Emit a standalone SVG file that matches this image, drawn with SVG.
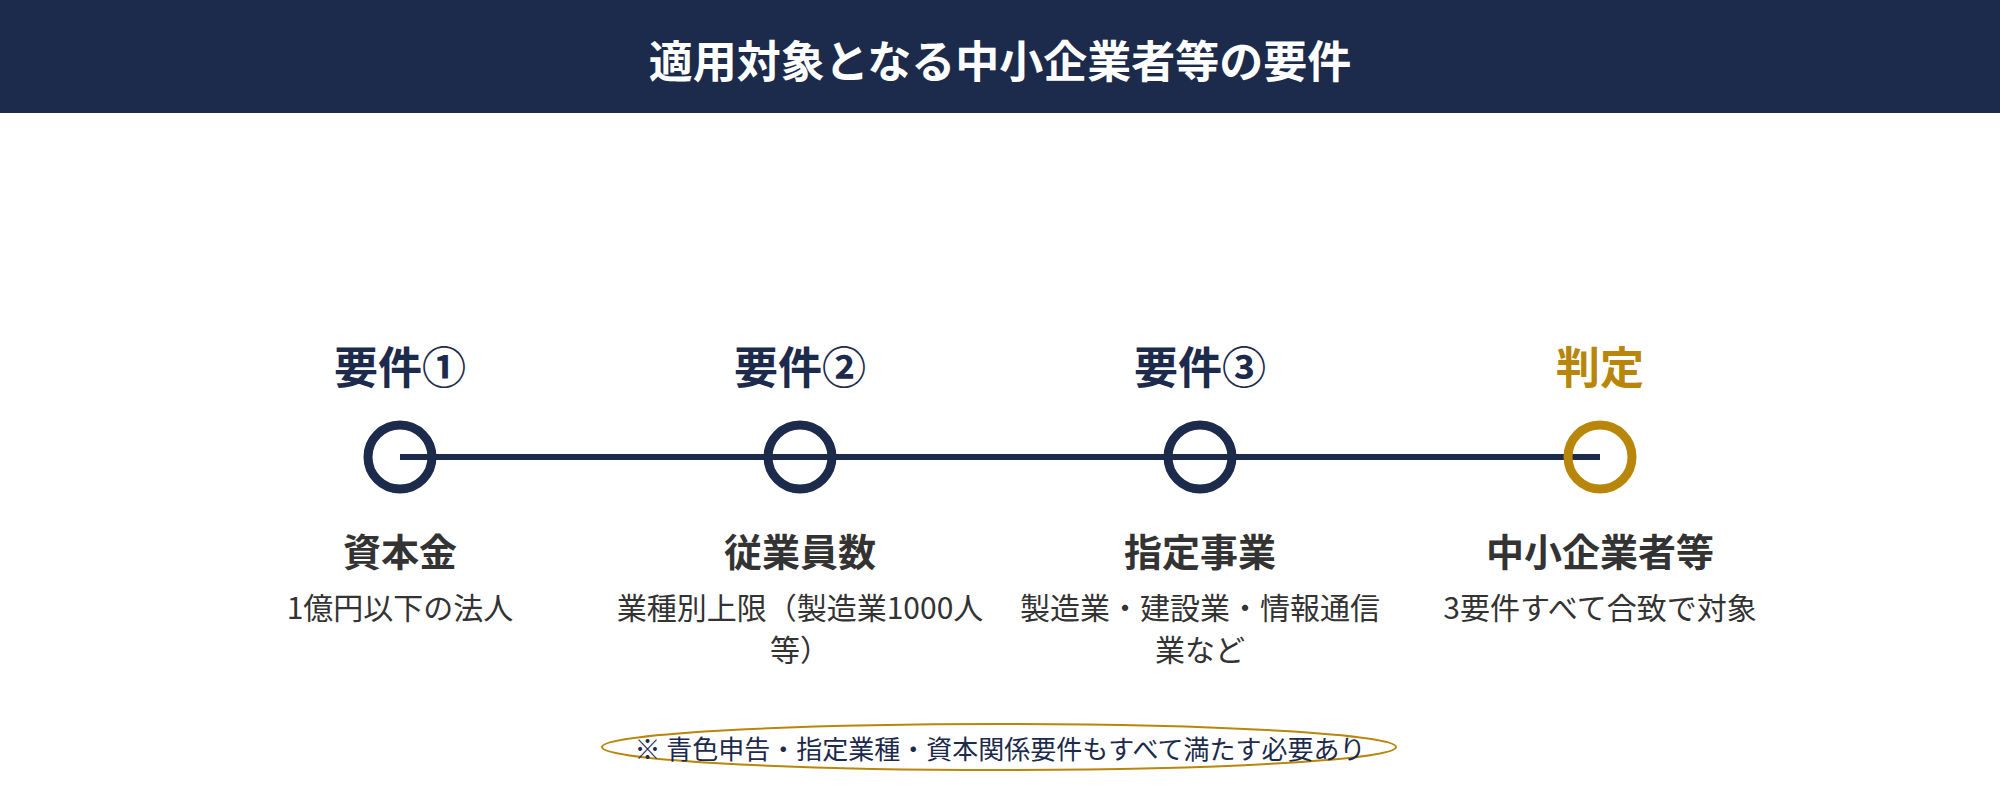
<svg xmlns="http://www.w3.org/2000/svg" width="2000" height="800" viewBox="0 0 2000 800">
  <style>
    text { font-family: "Noto Sans CJK JP", "Noto Sans", sans-serif; text-anchor: middle; }
    .title { font-size: 44px; font-weight: 700; fill: #ffffff; }
    .step { font-size: 44px; font-weight: 700; fill: #1c2a4b; }
    .step.gold { fill: #b8860b; }
    .head { font-size: 38px; font-weight: 700; fill: #333333; }
    .desc { font-size: 30px; font-weight: 400; fill: #333333; }
    .note { font-size: 26px; font-weight: 400; fill: #1c2a4b; }
    .dot { fill: none; stroke: #1c2a4b; stroke-width: 9; }
    .dot.gold { stroke: #b8860b; }
  </style>
  <rect x="0" y="0" width="2000" height="800" fill="#ffffff"/>
  <g id="header">
    <rect x="0" y="0" width="2000" height="113" fill="#1c2a4b"/>
    <text class="title" x="1000" y="78">適用対象となる中小企業者等の要件</text>
  </g>
  <g id="connectors">
    <line x1="400" y1="457" x2="1600" y2="457" stroke="#1c2a4b" stroke-width="6"/>
  </g>
  <g id="node-req1">
    <text class="step" x="400" y="384">要件①</text>
    <circle class="dot" cx="400" cy="457" r="32"/>
    <text class="head" x="400" y="566">資本金</text>
    <text class="desc" x="400" y="619">1億円以下の法人</text>
  </g>
  <g id="node-req2">
    <text class="step" x="800" y="384">要件②</text>
    <circle class="dot" cx="800" cy="457" r="32"/>
    <text class="head" x="800" y="566">従業員数</text>
    <text class="desc" x="800" y="619">業種別上限（製造業1000人</text>
    <text class="desc" x="800" y="661">等）</text>
  </g>
  <g id="node-req3">
    <text class="step" x="1200" y="384">要件③</text>
    <circle class="dot" cx="1200" cy="457" r="32"/>
    <text class="head" x="1200" y="566">指定事業</text>
    <text class="desc" x="1200" y="619">製造業・建設業・情報通信</text>
    <text class="desc" x="1200" y="661">業など</text>
  </g>
  <g id="node-judge">
    <text class="step gold" x="1600" y="384">判定</text>
    <circle class="dot gold" cx="1600" cy="457" r="32"/>
    <text class="head" x="1600" y="566">中小企業者等</text>
    <text class="desc" x="1600" y="619">3要件すべて合致で対象</text>
  </g>
  <g id="note">
    <ellipse cx="999" cy="747" rx="397" ry="23" fill="none" stroke="#b8860b" stroke-width="2"/>
    <text class="note" x="1000" y="759">※ 青色申告・指定業種・資本関係要件もすべて満たす必要あり</text>
  </g>
</svg>
